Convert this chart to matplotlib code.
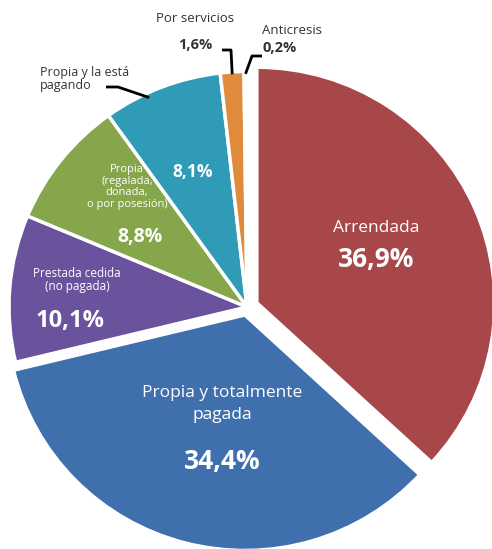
import numpy as np
import matplotlib.pyplot as plt

plt.rcParams['font.family'] = ['Open Sans', 'DejaVu Sans']

categories = ['Arrendada', 'Propia y totalmente pagada', 'Prestada cedida (no pagada)',
              'Propia (regalada, donada, o por posesión)', 'Propia y la está pagando',
              'Por servicios', 'Anticresis']
values = [36.9, 34.4, 10.1, 8.8, 8.1, 1.6, 0.2]
pct_labels = ['36,9%', '34,4%', '10,1%', '8,8%', '8,1%', '1,6%', '0,2%']
colors = ['#A7474A', '#3F70AD', '#6A529C', '#85A64A', '#2F9BB7', '#E08A3C', '#E8DCC0']
explode = [0.045, 0.035, 0, 0, 0, 0, 0]

W, H = 492, 549
RX, RY = 238.0, 235.5   # pie radius in pixels
CX, CY = 247, 307       # pie centre in pixels (from top-left)


def px(x, y):
    # pixel position -> data coords
    return (x - CX) / RX, (CY - y) / RY


fig = plt.figure(figsize=(W / 100, H / 100), dpi=100)
ax = fig.add_axes([0, 0, 1, 1])
wedges, _ = ax.pie(values, colors=colors, startangle=90, counterclock=False,
                   explode=explode, radius=1,
                   wedgeprops=dict(edgecolor='white', linewidth=2.5))
ax.set_xlim((0 - CX) / RX, (W - CX) / RX)
ax.set_ylim((CY - H) / RY, CY / RY)
ax.set_aspect('auto')
ax.axis('off')

white = dict(color='white', ha='center', va='center')

# labels inside the slices
ax.text(*px(376, 228), 'Arrendada', fontsize=12.5, **white)
ax.text(*px(376, 259), pct_labels[0], fontsize=19, fontweight='bold', **white)

ax.text(*px(222, 404), 'Propia y totalmente\npagada', fontsize=12.5,
        linespacing=1.5, **white)
ax.text(*px(222, 462), pct_labels[1], fontsize=19, fontweight='bold', **white)

ax.text(*px(77, 280), 'Prestada cedida\n(no pagada)', fontsize=8.5,
        linespacing=1.0, **white)
ax.text(*px(70, 321), pct_labels[2], fontsize=17, fontweight='bold', **white)

ax.text(*px(127, 187), 'Propia\n(regalada,\ndonada,\no por posesión)', fontsize=8,
        linespacing=1.05, **white)
ax.text(*px(140, 237), pct_labels[3], fontsize=14, fontweight='bold', **white)

ax.text(*px(193, 172), pct_labels[4], fontsize=12.5, fontweight='bold', **white)

# outside labels with leader lines
dark = '#333333'
ax.text(*px(195, 19), 'Por servicios', fontsize=9.5, color=dark, ha='center', va='center')
ax.text(*px(195, 45), pct_labels[5], fontsize=10.5, fontweight='bold', color=dark,
        ha='center', va='center')
ax.text(*px(292, 31), 'Anticresis', fontsize=9.5, color=dark, ha='center', va='center')
ax.text(*px(280, 48), pct_labels[6], fontsize=10.5, fontweight='bold', color=dark,
        ha='center', va='center')
ax.text(*px(40, 79), 'Propia y la está\npagando', fontsize=9, color=dark,
        ha='left', va='center', linespacing=1.0)


def edge_point(w, frac=0.5, r=1.0):
    a = np.deg2rad(w.theta1 + (w.theta2 - w.theta1) * frac)
    cx, cy = w.center
    return cx + r * np.cos(a), cy + r * np.sin(a)


lw = 2
# Por servicios
ex, ey = edge_point(wedges[5], 0.5, 0.99)
x0, y0 = px(222, 50)
x1, y1 = px(231, 50)
ax.plot([x0, x1, ex], [y0, y1, ey], color='black', lw=lw, solid_capstyle='butt')
# Anticresis
ex, ey = edge_point(wedges[6], 0.5, 0.99)
x0, y0 = px(262, 56)
x1, y1 = px(252, 56)
ax.plot([x0, x1, ex], [y0, y1, ey], color='black', lw=lw, solid_capstyle='butt')
# Propia y la está pagando
ex, ey = edge_point(wedges[4], 0.63, 0.98)
x0, y0 = px(106, 87)
x1, y1 = px(118, 87)
ax.plot([x0, x1, ex], [y0, y1, ey], color='black', lw=lw, solid_capstyle='butt')

fig.savefig('out.png', dpi=100)
